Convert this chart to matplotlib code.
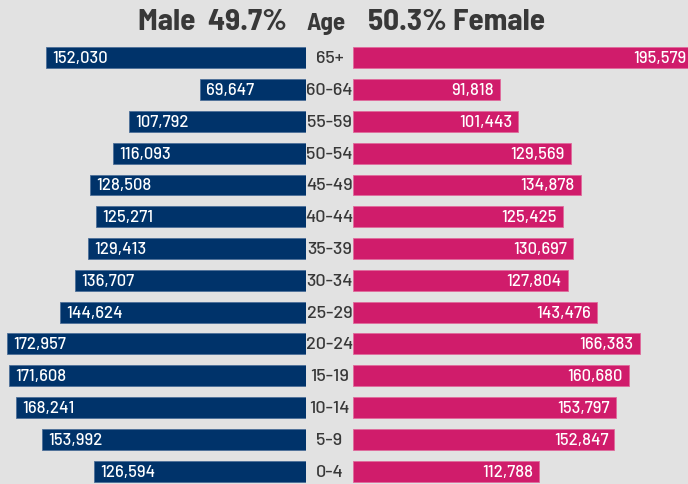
import numpy as np
import matplotlib.pyplot as plt
import matplotlib.transforms as mtransforms
from matplotlib import font_manager

# Data
age_groups = ['0-4', '5-9', '10-14', '15-19', '20-24', '25-29', '30-34',
              '35-39', '40-44', '45-49', '50-54', '55-59', '60-64', '65+']
male = [126594, 153992, 168241, 171608, 172957, 144624, 136707,
        129413, 125271, 128508, 116093, 107792, 69647, 152030]
female = [112788, 152847, 153797, 160680, 166383, 143476, 127804,
          130697, 125425, 134878, 129569, 101443, 91818, 195579]
male_share = '49.7%'
female_share = '50.3%'

# Style
bg = '#e2e2e2'
navy = '#00336a'
pink = '#d01c6b'
txt = '#383838'

names = {f.name for f in font_manager.fontManager.ttflist}
def pick(wanted):
    return [n for n in wanted if n in names] + ['DejaVu Sans']
body_font = pick(['Barlow', 'Barlow Semi Condensed', 'Roboto Condensed'])
head_font = pick(['Barlow Semi Condensed', 'Barlow Condensed', 'Roboto Condensed'])
plt.rcParams['font.family'] = body_font

W, H = 688, 485
fig = plt.figure(figsize=(W / 100, H / 100), dpi=100, facecolor=bg)

axis_min = 13200          # bars start from this value
px_per_unit = 0.001872    # pixels per person
male_right = 306
female_left = 353

y = np.arange(len(age_groups))
ylim = (-0.408, 14.852)
bar_h = 0.66

ax_m = fig.add_axes([0, 0, male_right / W, 1])
ax_f = fig.add_axes([female_left / W, 0, 1 - female_left / W, 1])

for ax in (ax_m, ax_f):
    ax.set_facecolor(bg)
    ax.set_ylim(*ylim)
    ax.axis('off')

m_max = axis_min + male_right / px_per_unit
f_max = axis_min + (W - female_left) / px_per_unit
ax_m.set_xlim(m_max, axis_min)
ax_f.set_xlim(axis_min, f_max)

ax_m.barh(y, np.array(male) - axis_min, left=axis_min, height=bar_h,
          color=navy, edgecolor='#4d6f99', linewidth=0.6)
ax_f.barh(y, np.array(female) - axis_min, left=axis_min, height=bar_h,
          color=pink, edgecolor='#e06a9c', linewidth=0.6)

pad = 6 / px_per_unit
for yi, v in zip(y, male):
    ax_m.text(v - pad, yi, f'{v:,}', color='white', fontsize=12,
              fontweight='medium', ha='left', va='center')
for yi, v in zip(y, female):
    ax_f.text(min(v - pad, f_max - 2 / px_per_unit), yi, f'{v:,}', color='white',
              fontsize=12, fontweight='medium', ha='right', va='center')

# Age labels in the gap
trans = mtransforms.blended_transform_factory(fig.transFigure, ax_m.transData)
mid = (male_right + female_left) / 2 / W
for yi, lab in zip(y, age_groups):
    fig.text(mid, yi, lab, transform=trans, color=txt, fontsize=13,
             fontweight='medium', ha='center', va='center')

# Header
base = 1 - 30 / H
fig.text(287 / W, base, f'Male  {male_share}', color=txt, fontsize=22.5,
         fontweight='bold', family=head_font, ha='right', va='baseline')
fig.text(326 / W, base, 'Age', color=txt, fontsize=18, fontweight='bold',
         family=head_font, ha='center', va='baseline')
fig.text(368 / W, base, f'{female_share} Female', color=txt, fontsize=22.5,
         fontweight='bold', family=head_font, ha='left', va='baseline')

fig.savefig('out.png', dpi=100, facecolor=bg)
